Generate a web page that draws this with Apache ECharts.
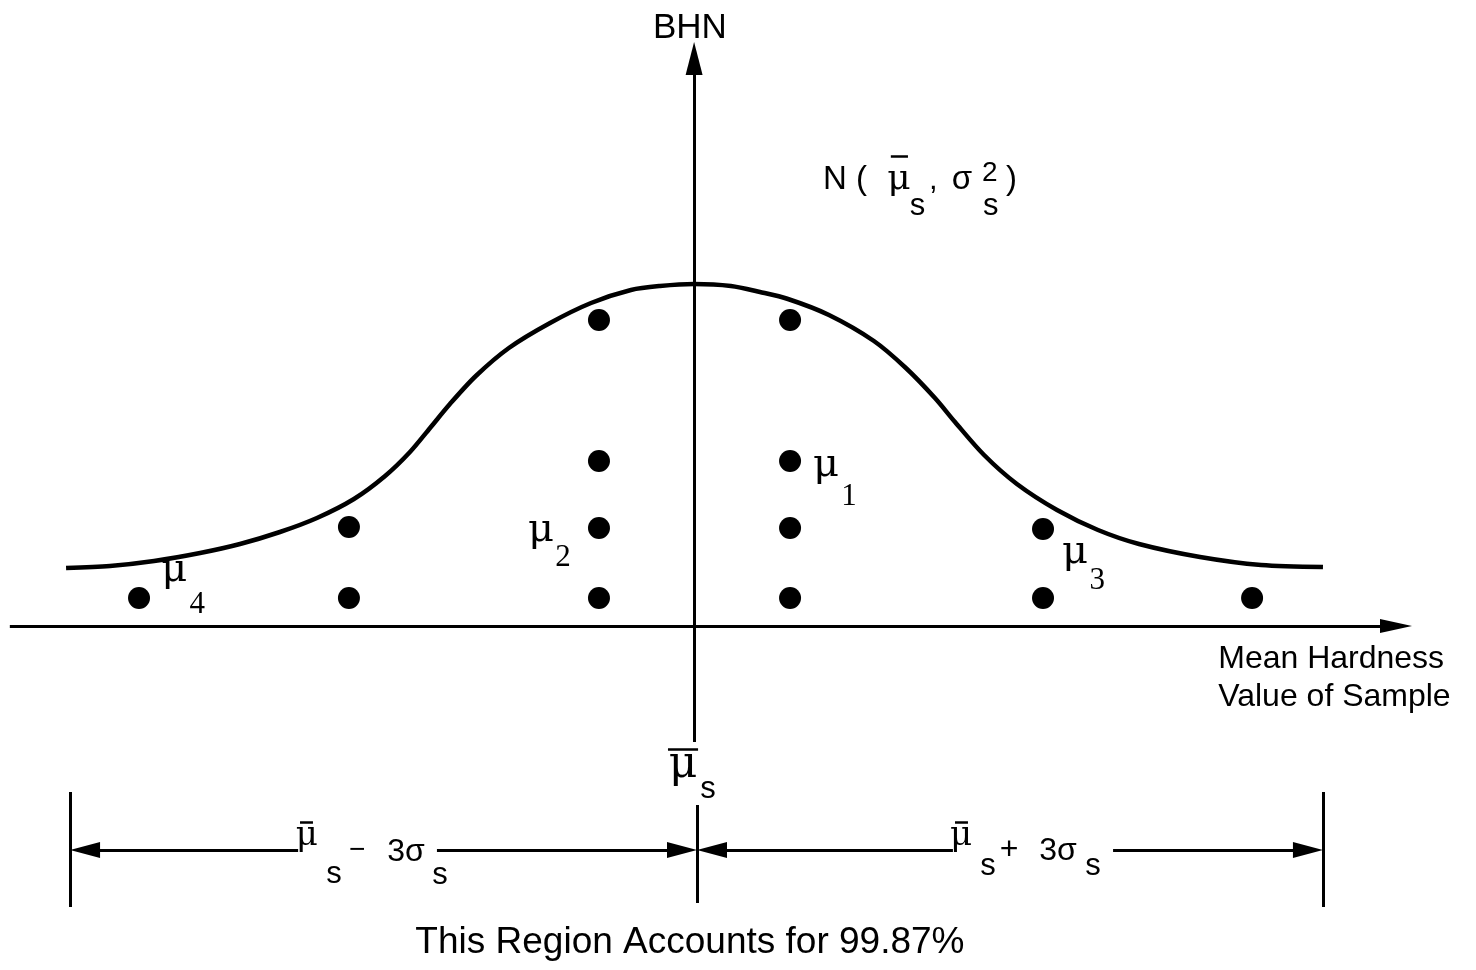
<!DOCTYPE html>
<html>
<head>
<meta charset="utf-8">
<script src="https://cdn.jsdelivr.net/npm/echarts@6/dist/echarts.min.js"></script>
<style>
html,body{margin:0;padding:0;background:#fff;}
#chart{width:1476px;height:970px;}
</style>
</head>
<body>
<div id="chart"></div>
<script>
// ---- Data (x in units of sigma from the mean, y in relative height units) ----
const curveX = [-3.004,-2.794,-2.583,-2.363,-2.172,-1.981,-1.804,-1.627,-1.478,-1.359,-1.263,-1.168,-1.044,-0.886,-0.689,-0.493,-0.302,-0.163,0,
                0.176,0.315,0.449,0.645,0.860,1.013,1.152,1.248,1.387,1.544,1.736,1.932,2.128,2.420,2.712,3.008];
const curveY = [0.58,0.60,0.65,0.73,0.82,0.94,1.08,1.27,1.50,1.74,1.98,2.22,2.50,2.78,3.03,3.23,3.36,3.40,3.42,
                3.40,3.34,3.27,3.11,2.85,2.58,2.28,2.04,1.71,1.42,1.16,0.96,0.82,0.69,0.61,0.59];

const dotX = [-2.655,-1.651,-1.651,-0.455,-0.455,-0.455,-0.455,0.459,0.459,0.459,0.459,1.669,1.669,2.669];
const dotY = [0.28,0.28,0.99,0.28,0.98,1.65,3.06,0.28,0.98,1.65,3.06,0.28,0.97,0.28];

// ---- layout of the drawing frame ----
const X_MIN = -3.32, X_MAX = 3.74, Y_MIN = -3.44, Y_MAX = 6.26;
const W = 1476, H = 970;
const PXX = W / (X_MAX - X_MIN), PXY = H / (Y_MAX - Y_MIN);

const SANS = "'Liberation Sans', Arial, Helvetica, sans-serif";
const SERIF = "'Liberation Serif', 'Times New Roman', serif";
const GREEK = "'DejaVu Serif', serif";
const MU = "\u03BC";

// annotations: text, x, y, family, size, align
const texts = [
  ['BHN', -0.020, 5.98, SANS, 35, 'center'],
  ['N (', 0.617, 4.46, SANS, 33, 'left'],
  [MU, 0.980, 4.46, GREEK, 36, 'center'],
  ['s', 1.032, 4.20, SANS, 31, 'left'],
  [',', 1.123, 4.46, SANS, 31, 'left'],
  ['\u03C3', 1.233, 4.46, SANS, 33, 'left'],
  ['2', 1.377, 4.53, SANS, 28, 'left'],
  ['s', 1.382, 4.20, SANS, 31, 'left'],
  [')', 1.492, 4.46, SANS, 33, 'left'],
  [MU, 0.631, 1.60, GREEK, 40, 'center'],
  ['1', 0.741, 1.29, SERIF, 31, 'center'],
  [MU, -0.732, 0.95, GREEK, 40, 'center'],
  ['2', -0.627, 0.68, SERIF, 31, 'center'],
  [MU, 1.822, 0.73, GREEK, 40, 'center'],
  ['3', 1.928, 0.45, SERIF, 31, 'center'],
  [MU, -2.487, 0.55, GREEK, 40, 'center'],
  ['4', -2.377, 0.21, SERIF, 31, 'center'],
  ['Mean Hardness\nValue of Sample', 2.507, -0.52, SANS, 32, 'left'],
  [MU, -0.053, -1.40, GREEK, 44, 'center'],
  ['s', 0.066, -1.63, SANS, 31, 'center'],
  [MU, -1.852, -2.10, GREEK, 34, 'center'],
  ['s', -1.723, -2.48, SANS, 31, 'center'],
  ['\u2212', -1.612, -2.24, SANS, 28, 'center'],
  ['3\u03C3', -1.378, -2.26, SANS, 32, 'center'],
  ['s', -1.215, -2.49, SANS, 31, 'center'],
  [MU, 1.277, -2.10, GREEK, 34, 'center'],
  ['s', 1.406, -2.40, SANS, 31, 'center'],
  ['+', 1.507, -2.24, SANS, 32, 'center'],
  ['3\u03C3', 1.741, -2.25, SANS, 32, 'center'],
  ['s', 1.908, -2.40, SANS, 31, 'center'],
  ['This Region Accounts for 99.87%', -0.020, -3.17, SANS, 37, 'center']
];

// line segments [x1,y1,x2,y2, arrowAtStart, arrowAtEnd, arrowW, arrowL, width]
const segs = [
  [-3.273, 0, 3.434, 0, false, true, 14, 32, 3],        // x axis
  [0, -1.16, 0, 5.84, false, true, 17, 33, 3],           // y axis
  [-2.985, -2.24, -1.894, -2.24, true, false, 16, 30, 3],
  [-1.230, -2.24, 0.014, -2.24, false, true, 16, 30, 3],
  [0.014, -2.24, 1.238, -2.24, true, false, 16, 30, 3],
  [2.004, -2.24, 3.008, -2.24, false, true, 16, 30, 3],
  [-2.985, -1.66, -2.985, -2.81, false, false, 0, 0, 3],
  [0.014, -1.79, 0.014, -2.77, false, false, 0, 0, 3],
  [3.008, -1.66, 3.008, -2.81, false, false, 0, 0, 3],
  // overbars of the mean symbols
  [0.941, 4.70, 1.023, 4.70, false, false, 0, 0, 2.5],
  [-0.125, -1.23, 0.019, -1.23, false, false, 0, 0, 2.5],
  [-1.885, -1.96, -1.823, -1.96, false, false, 0, 0, 2.5],
  [1.248, -1.96, 1.310, -1.96, false, false, 0, 0, 2.5]
];

function shiftTip(x, y, ox, oy, halfPx) {
  const dxp = (ox - x) * PXX, dyp = (oy - y) * PXY;
  const len = Math.sqrt(dxp * dxp + dyp * dyp);
  return [x + (dxp / len) * halfPx / PXX, y + (dyp / len) * halfPx / PXY];
}

const markData = segs.map(s => {
  const [x1, y1, x2, y2, a1, a2, aw, al, lw] = s;
  let p1 = [x1, y1], p2 = [x2, y2];
  if (a1) p1 = shiftTip(x1, y1, x2, y2, al / 2);
  if (a2) p2 = shiftTip(x2, y2, x1, y1, al / 2);
  return [
    { coord: p1, symbol: a1 ? 'triangle' : 'none', symbolSize: [aw, al], lineStyle: { width: lw } },
    { coord: p2, symbol: a2 ? 'triangle' : 'none', symbolSize: [aw, al] }
  ];
});

const chart = echarts.init(document.getElementById('chart'), null, { renderer: 'canvas' });
chart.setOption({
  animation: false,
  backgroundColor: '#ffffff',
  grid: { left: 0, right: 0, top: 0, bottom: 0 },
  xAxis: { type: 'value', min: X_MIN, max: X_MAX, show: false },
  yAxis: { type: 'value', min: Y_MIN, max: Y_MAX, show: false },
  series: [
    {
      type: 'line',
      data: curveX.map((x, i) => [x, curveY[i]]),
      smooth: 0.3,
      showSymbol: false,
      symbol: 'none',
      lineStyle: { color: '#000', width: 4.5 },
      silent: true,
      z: 3,
      markLine: {
        silent: true,
        animation: false,
        symbol: ['none', 'none'],
        label: { show: false },
        lineStyle: { color: '#000', width: 3, type: 'solid', opacity: 1 },
        itemStyle: { color: '#000', opacity: 1 },
        emphasis: { disabled: true },
        data: markData
      }
    },
    {
      type: 'scatter',
      data: dotX.map((x, i) => [x, dotY[i]]),
      symbol: 'circle',
      symbolSize: 22,
      itemStyle: { color: '#000', opacity: 1 },
      silent: true,
      z: 4
    },
    {
      type: 'scatter',
      symbolSize: 0,
      silent: true,
      z: 5,
      itemStyle: { color: '#000', opacity: 1 },
      data: texts.map(t => ({
        value: [t[1], t[2]],
        label: {
          show: true,
          position: [0, 0],
          formatter: t[0],
          fontFamily: t[3],
          fontSize: t[4],
          align: t[5],
          verticalAlign: 'middle',
          color: '#000',
          opacity: 1,
          lineHeight: Math.round(t[4] * 1.2)
        }
      }))
    }
  ]
});
</script>
</body>
</html>
